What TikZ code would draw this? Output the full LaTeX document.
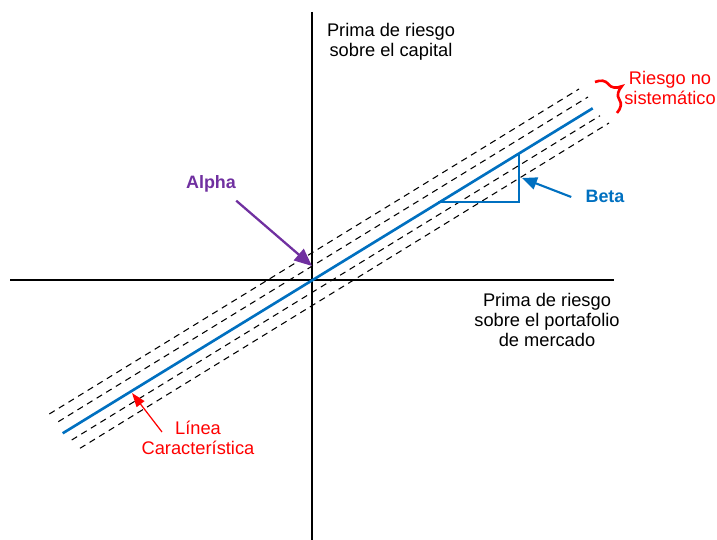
\documentclass[tikz,border=0pt]{standalone}
\usepackage{fontspec}
\setmainfont{Liberation Sans}
\usetikzlibrary{arrows.meta,calc,decorations.pathreplacing}
\definecolor{cblue}{RGB}{0,112,192}
\definecolor{cpurple}{RGB}{112,48,160}
\definecolor{cred}{RGB}{255,0,0}
\begin{document}
\begin{tikzpicture}[x=0.02cm,y=-0.02cm,
  axis/.style={draw=black,line width=0.9pt},
  guide/.style={draw=black,line width=0.6pt,dash pattern=on 3.6pt off 2.8pt},
  charline/.style={draw=cblue,line width=1.5pt},
  lbl/.style={font=\fontsize{10.4}{11.4}\selectfont,align=center,inner sep=0pt},
  blbl/.style={font=\fontsize{10.2}{11}\selectfont\bfseries,inner sep=0pt},
  alphaarrow/.style={draw=cpurple,line width=1.3pt,-{Triangle[length=10pt,width=8.5pt]}},
  betaarrow/.style={draw=cblue,line width=1.2pt,-{Triangle[length=8.5pt,width=7pt]}},
  lineaarrow/.style={draw=cred,line width=0.7pt,-{Triangle[length=8pt,width=5.5pt]}}]
\useasboundingbox (0,0) rectangle (717,540);
% axes
\coordinate (ytop) at (312,12);
\coordinate (ybot) at (312,540);
\coordinate (xleft) at (10,280);
\coordinate (xright) at (614,280);
\draw[axis] (ytop) -- (ybot);
\draw[axis] (xleft) -- (xright);
% dashed guide lines
\coordinate (g1a) at (49.3,414);  \coordinate (g1b) at (579,89);
\coordinate (g2a) at (58.3,421.7); \coordinate (g2b) at (588,97);
\coordinate (g3a) at (71.7,440);  \coordinate (g3b) at (600,115.7);
\coordinate (g4a) at (80,448.3);  \coordinate (g4b) at (609,123);
\draw[guide] (g1a) -- (g1b);
\draw[guide] (g2a) -- (g2b);
\draw[guide] (g3a) -- (g3b);
\draw[guide] (g4a) -- (g4b);
% characteristic line
\coordinate (ca) at (62.7,433.3);
\coordinate (cb) at (592.7,108.3);
\draw[charline] (ca) -- (cb);
% beta triangle
\coordinate (t1) at (438,202);
\coordinate (t2) at (519,202);
\coordinate (t3) at (519,153);
\draw[charline,line width=1.7pt,line join=miter] (t1) -- (t2) -- (t3);
% labels
\node[lbl,anchor=north] (ylab) at (391,23) {Prima de riesgo\\sobre el capital};
\node[lbl,anchor=north] (xlab) at (547,293) {Prima de riesgo\\sobre el portafolio\\de mercado};
\node[lbl,anchor=north,text=cred] (riesgo) at (670,71) {Riesgo no\\sistemático};
\node[lbl,anchor=north,text=cred] (linea) at (198,421) {Línea\\Característica};
\node[blbl,text=cpurple] (alpha) at (211,184) {Alpha};
\node[blbl,text=cblue] (beta) at (605,196) {Beta};
% arrows
\coordinate (alphatip) at (312,266);
\coordinate (betatip) at (522,178);
\coordinate (lineatip) at (132,393);
\draw[alphaarrow] ($(alpha.south east)+(0,8)$) -- (alphatip);
\draw[betaarrow] ($(beta.west)+(-14,1)$) -- (betatip);
\draw[lineaarrow] (162,432) -- (lineatip);
% brace
\coordinate (bra) at (595,82);
\coordinate (brb) at (617,113);
\draw[draw=cred,line width=1.5pt,decorate,decoration={brace,amplitude=11}] (bra) -- (brb);
\end{tikzpicture}
\end{document}
